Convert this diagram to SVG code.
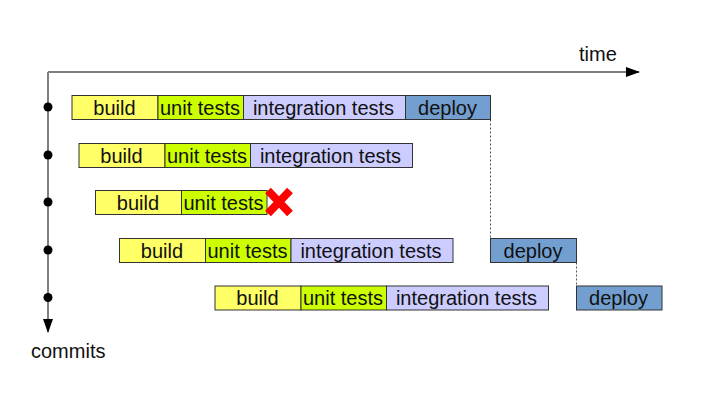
<svg xmlns="http://www.w3.org/2000/svg" width="707" height="418" viewBox="0 0 707 418">
<style>
  text { font-family: "Liberation Sans", Arial, sans-serif; font-size: 20px; fill: #111; text-anchor: middle; }
  .lbl { text-anchor: start; }
  .box { stroke: #333; stroke-width: 1; }
  .b { fill: #ffff66; }
  .u { fill: #ccff00; }
  .i { fill: #ccccff; }
  .d { fill: #729fcf; }
  .axis { stroke: #7f7f7f; stroke-width: 2; fill: none; }
  .dot { fill: #000; }
  .dash { stroke: #555; stroke-width: 1; stroke-dasharray: 2 2; fill: none; }
</style>
<defs>
  <marker id="ah" viewBox="0 0 14 10" refX="13" refY="5" markerWidth="14" markerHeight="10" markerUnits="userSpaceOnUse" orient="auto">
    <path d="M0,0 L14,5 L0,10 Z" fill="#000"/>
  </marker>
</defs>
<rect x="0" y="0" width="707" height="418" style="fill:#fff;stroke:none"/>
<g id="connectors">
  <path class="axis" d="M48,72 L639,72" marker-end="url(#ah)"/>
  <path class="axis" d="M48,72 L48,332" marker-end="url(#ah)"/>
  <circle class="dot" cx="48" cy="107" r="4.5"/>
  <circle class="dot" cx="48" cy="155" r="4.5"/>
  <circle class="dot" cx="48" cy="202" r="4.5"/>
  <circle class="dot" cx="48" cy="250" r="4.5"/>
  <circle class="dot" cx="48" cy="297.5" r="4.5"/>
  <path class="dash" d="M490.5,119.5 L490.5,238.5"/>
  <path class="dash" d="M576.5,262.5 L576.5,286"/>
</g>
<g id="axis-labels">
  <text class="lbl" x="579" y="61">time</text>
  <text class="lbl" x="31" y="358">commits</text>
</g>
<g id="commit1">
  <rect class="box b" x="72" y="95.5" width="86" height="24"/>
  <rect class="box u" x="158" y="95.5" width="85.5" height="24"/>
  <rect class="box i" x="243.5" y="95.5" width="162" height="24"/>
  <rect class="box d" x="405.5" y="95.5" width="85" height="24"/>
  <text x="114.5" y="114.5">build</text>
  <text x="200" y="114.5">unit tests</text>
  <text x="323.5" y="114.5">integration tests</text>
  <text x="447.5" y="114.5">deploy</text>
</g>
<g id="commit2">
  <rect class="box b" x="79" y="143.5" width="86" height="24"/>
  <rect class="box u" x="165" y="143.5" width="85.5" height="24"/>
  <rect class="box i" x="250.5" y="143.5" width="162" height="24"/>
  <text x="121.5" y="162.5">build</text>
  <text x="207" y="162.5">unit tests</text>
  <text x="330.5" y="162.5">integration tests</text>
</g>
<g id="commit3">
  <rect class="box b" x="95.5" y="190.5" width="86" height="24"/>
  <rect class="box u" x="181.5" y="190.5" width="85.5" height="24"/>
  <text x="138" y="209.5">build</text>
  <text x="223.5" y="209.5">unit tests</text>
  <g id="fail-mark">
    <path d="M268,190.5 L290,213.5 M290,190.5 L268,213.5" stroke="#ff0000" stroke-width="8" fill="none"/>
  </g>
</g>
<g id="commit4">
  <rect class="box b" x="119.5" y="238.5" width="86" height="24"/>
  <rect class="box u" x="205.5" y="238.5" width="85.5" height="24"/>
  <rect class="box i" x="291" y="238.5" width="162" height="24"/>
  <rect class="box d" x="490.5" y="238.5" width="86" height="24"/>
  <text x="162" y="257.5">build</text>
  <text x="247.5" y="257.5">unit tests</text>
  <text x="371" y="257.5">integration tests</text>
  <text x="533" y="257.5">deploy</text>
</g>
<g id="commit5">
  <rect class="box b" x="215" y="286" width="86" height="24"/>
  <rect class="box u" x="301" y="286" width="85.5" height="24"/>
  <rect class="box i" x="386.5" y="286" width="162" height="24"/>
  <rect class="box d" x="576.5" y="286" width="85.5" height="24"/>
  <text x="257.5" y="305">build</text>
  <text x="343" y="305">unit tests</text>
  <text x="466.5" y="305">integration tests</text>
  <text x="618.5" y="305">deploy</text>
</g>
</svg>
